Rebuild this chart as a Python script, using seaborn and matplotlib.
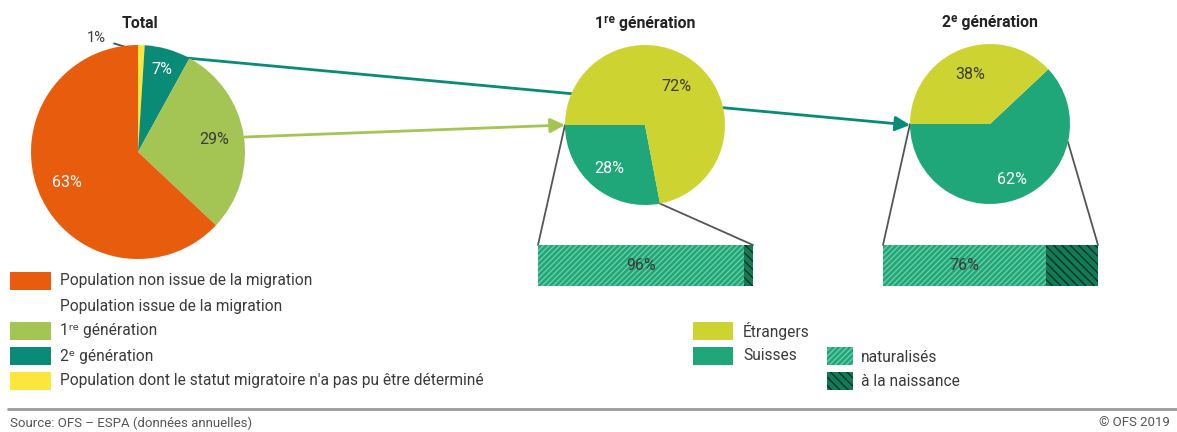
import matplotlib
matplotlib.use("Agg")
import matplotlib.pyplot as plt
import seaborn as sns
import numpy as np
from matplotlib.patches import Rectangle

# ---------------- data ----------------
total_labels = ["Population dont le statut migratoire n'a pas pu être déterminé",
                "2ᵉ génération", "1ʳᵉ génération",
                "Population non issue de la migration"]
total_values = [1, 7, 29, 63]
gen_labels = ["Suisses", "Étrangers"]
gen1_values = [28, 72]
gen2_values = [62, 38]
split_labels = ["naturalisés", "à la naissance"]
gen1_split = [96, 4]
gen2_split = [76, 24]
titles = ["Total", "1ʳᵉ génération", "2ᵉ génération"]

# ---------------- style ----------------
sns.set_theme(style="white")
plt.rcParams["font.family"] = ["Roboto", "DejaVu Sans"]

C_ORANGE = "#e85c0d"
C_LGREEN = "#a4c553"
C_TEAL = "#098b78"
C_YELLOW = "#fbe63b"
C_ETR = "#cdd431"
C_SUI = "#1fa679"
C_NAT_HATCH = "#6ccca6"
C_NAI = "#117a57"
C_NAI_HATCH = "#08301f"
TXT = "#3a3a3a"
FS_LEG = 11.2
FS_LBL = 11.5

W, H = 1177, 432
fig = plt.figure(figsize=(W / 100, H / 100), dpi=100)

# background overlay in pixel coordinates
ax0 = fig.add_axes([0, 0, 1, 1])
ax0.set_xlim(0, W)
ax0.set_ylim(H, 0)
ax0.axis("off")


def px_axes(x0, y0, x1, y1):
    a = fig.add_axes([x0 / W, 1 - y1 / H, (x1 - x0) / W, (y1 - y0) / H])
    a.patch.set_alpha(0)
    return a


def pie(cx, cy, r, values, colors, startangle, counterclock, label_colors, dists):
    a = px_axes(cx - r, cy - r, cx + r, cy + r)
    wedges, _ = a.pie(values, colors=colors, startangle=startangle,
                      counterclock=counterclock, radius=1,
                      wedgeprops=dict(linewidth=0))
    for w, v, lc, d in zip(wedges, values, label_colors, dists):
        if lc is None:
            continue
        ang = np.deg2rad((w.theta1 + w.theta2) / 2)
        a.text(d * np.cos(ang), d * np.sin(ang), f"{v}%", ha="center",
               va="center", color=lc, fontsize=FS_LBL)
    a.set_xlim(-1, 1)
    a.set_ylim(-1, 1)
    a.axis("off")
    for w in wedges:
        w.set_clip_on(False)
    return wedges


# geometry (pixels)
T_C, T_R = (138, 152), 107
G1_C, G1_R = (645, 125), 80
G2_C, G2_R = (990, 124), 80
B1 = (538, 245, 753, 286)
B2 = (883, 245, 1098, 286)

# ---------- arrows (drawn below the pies) ----------
ax0.annotate("", xy=(910, 125), xytext=(186, 58),
             arrowprops=dict(arrowstyle="-|>", color=C_TEAL, lw=2,
                             mutation_scale=22, shrinkA=0, shrinkB=0))
ax0.annotate("", xy=(565, 125), xytext=(245, 137),
             arrowprops=dict(arrowstyle="-|>", color=C_LGREEN, lw=2,
                             mutation_scale=22, shrinkA=0, shrinkB=0))

# ---------- pies ----------
pie(*T_C, T_R, total_values, [C_YELLOW, C_TEAL, C_LGREEN, C_ORANGE], 90, False,
    [None, "white", TXT, "white"], [0, 0.8, 0.72, 0.72])
pie(*G1_C, G1_R, gen1_values, [C_SUI, C_ETR], 180, True,
    ["white", TXT], [0.7, 0.62])
pie(*G2_C, G2_R, gen2_values, [C_SUI, C_ETR], 180, True,
    ["white", TXT], [0.75, 0.66])

# 1% label with leader
ax0.annotate("1%", xy=(139, 51), xytext=(96, 38), ha="center", va="center",
             fontsize=10.5, color=TXT,
             arrowprops=dict(arrowstyle="-", color="#555555", lw=1.4,
                             shrinkA=4, shrinkB=0))

# titles
for (tx, ty), t in zip([(140, 23), (645, 23), (990, 23)], titles):
    ax0.text(tx, ty, t, ha="center", va="center", fontsize=11.3,
             fontweight="bold", color="#222222")


# ---------- split bars ----------
def split_bar(box, split):
    a = px_axes(*box)
    cum = np.cumsum(split)[::-1]  # full bar first, then naturalisés on top
    sns.barplot(x=[cum[0]], y=["Suisses"], orient="h", width=1, saturation=1,
                color=C_NAI, ax=a)
    sns.barplot(x=[cum[1]], y=["Suisses"], orient="h", width=1, saturation=1,
                color=C_SUI, ax=a)
    p_nai, p_nat = a.patches[0], a.patches[1]
    p_nai.set_hatch("\\\\\\\\")
    p_nai.set_edgecolor(C_NAI_HATCH)
    p_nai.set_linewidth(0)
    p_nat.set_hatch("//////")
    p_nat.set_edgecolor(C_NAT_HATCH)
    p_nat.set_linewidth(0)
    a.set_xlim(0, sum(split))
    a.set_ylim(0.5, -0.5)
    a.text(split[0] / 2, 0, f"{split[0]}%", ha="center", va="center",
           fontsize=FS_LBL, color=TXT)
    a.axis("off")


split_bar(B1, gen1_split)
split_bar(B2, gen2_split)

# connector lines pie -> bar
def edge_pt(c, r, deg):
    t = np.deg2rad(deg)
    return c[0] + r * np.cos(t), c[1] - r * np.sin(t)

g1_end = 180 + gen1_values[0] / 100 * 360
for p, q in [((G1_C[0] - G1_R, G1_C[1]), (B1[0], B1[1])),
             (edge_pt(G1_C, G1_R, g1_end), (B1[2], B1[1])),
             ((G2_C[0] - G2_R, G2_C[1]), (B2[0], B2[1])),
             (edge_pt(G2_C, G2_R, -13), (B2[2], B2[1]))]:
    ax0.plot([p[0], q[0]], [p[1], q[1]], color="#555555", lw=1.3)

# ---------- legends ----------
def swatch(x, y, w, h, fc, hatch=None, hc=None):
    ax0.add_patch(Rectangle((x, y), w, h, facecolor=fc,
                            edgecolor=hc if hc else fc, hatch=hatch, lw=0))

left_rows = [
    (281, C_ORANGE, total_labels[3]),
    (306, None, "Population issue de la migration"),
    (331, C_LGREEN, total_labels[2]),
    (356, C_TEAL, total_labels[1]),
    (381, C_YELLOW, total_labels[0]),
]
for y, c, t in left_rows:
    if c:
        swatch(10, y - 9, 41, 18, c)
    ax0.text(60, y, t, va="center", ha="left", fontsize=FS_LEG, color=TXT)

swatch(693, 322, 40, 18, C_ETR)
ax0.text(743, 331, gen_labels[1], va="center", fontsize=FS_LEG, color=TXT)
swatch(693, 347, 40, 18, C_SUI)
ax0.text(743, 356, gen_labels[0], va="center", fontsize=FS_LEG, color=TXT)
swatch(827, 347, 26, 18, C_SUI, "//////", C_NAT_HATCH)
ax0.text(861, 357, split_labels[0], va="center", fontsize=FS_LEG, color=TXT)
swatch(827, 372, 26, 18, C_NAI, "\\\\\\\\", C_NAI_HATCH)
ax0.text(861, 381, split_labels[1], va="center", fontsize=FS_LEG, color=TXT)

# rule and source
ax0.plot([8, W], [409, 409], color="#9a9a9a", lw=2)
ax0.text(10, 423, "Source: OFS – ESPA (données annuelles)", va="center",
         fontsize=9.5, color="#555555")
ax0.text(1170, 423, "© OFS 2019", va="center", ha="right", fontsize=9.5,
         color="#555555")

fig.savefig("out.png", dpi=100)
